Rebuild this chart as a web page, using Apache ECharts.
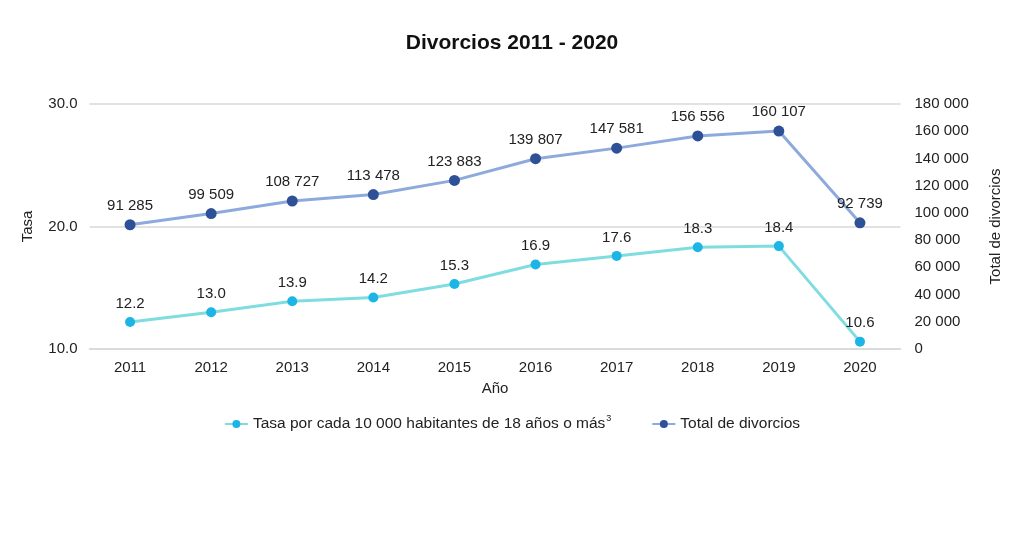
<!DOCTYPE html>
<html>
<head>
<meta charset="utf-8">
<script src="https://cdn.jsdelivr.net/npm/echarts@6/dist/echarts.min.js"></script>
<style>
    html, body { margin: 0; padding: 0; background: #fff; }
    #chart { width: 1024px; height: 552px; }
</style>
</head>
<body>
<div id="chart"></div>
<script>
var years = ['2011', '2012', '2013', '2014', '2015', '2016', '2017', '2018', '2019', '2020'];
var tasa = [12.2, 13.0, 13.9, 14.2, 15.3, 16.9, 17.6, 18.3, 18.4, 10.6];
var totalDivorcios = [91285, 99509, 108727, 113478, 123883, 139807, 147581, 156556, 160107, 92739];
var tasaName = 'Tasa por cada 10 000 habitantes de 18 años o más';
var totalName = 'Total de divorcios';

// separador de miles con espacio
function miles(v) {
    return String(v).replace(/\B(?=(\d{3})+(?!\d))/g, ' ');
}

var myChart = echarts.init(document.getElementById('chart'));

var font = "'Liberation Sans', Arial, sans-serif";

var option = {
    backgroundColor: '#fff',
    textStyle: { fontFamily: font },
    title: {
        text: 'Divorcios 2011 - 2020',
        left: 'center',
        top: 28,
        textStyle: { fontSize: 21, fontWeight: 'bold', color: '#111', fontFamily: font }
    },
    legend: {
        bottom: 115,
        left: 'center',
        itemGap: 40,
        itemWidth: 23,
        itemHeight: 10,
        data: [tasaName, totalName],
        formatter: function (name) {
            return name === tasaName ? name + '{sup|3}' : name;
        },
        textStyle: {
            fontSize: 15.5, color: '#222', fontFamily: font,
            rich: { sup: { fontSize: 9, verticalAlign: 'top', padding: [0, 0, 10, 1], color: '#222' } }
        }
    },
    grid: {
        left: 89.5,
        right: 123.5,
        top: 104,
        bottom: 203
    },
    xAxis: {
        type: 'category',
        data: years,
        boundaryGap: true,
        name: 'Año',
        nameLocation: 'middle',
        nameGap: 32,
        nameTextStyle: { fontSize: 15, color: '#222' },
        axisLine: { lineStyle: { color: '#d9d9d9', width: 1.5 } },
        axisTick: { show: false },
        axisLabel: { fontSize: 15, color: '#222', margin: 11 }
    },
    yAxis: [
        {
            type: 'value',
            min: 10,
            max: 30,
            interval: 10,
            name: 'Tasa',
            nameLocation: 'middle',
            nameRotate: 90,
            nameGap: 54,
            nameTextStyle: { fontSize: 15, color: '#222' },
            axisLine: { show: false },
            axisTick: { show: false },
            axisLabel: {
                fontSize: 15, color: '#222', margin: 12,
                formatter: function (v) { return v.toFixed(1); }
            },
            splitLine: { lineStyle: { color: '#d9d9d9', width: 1.5 } }
        },
        {
            type: 'value',
            min: 0,
            max: 180000,
            interval: 20000,
            name: 'Total de divorcios',
            nameLocation: 'middle',
            nameRotate: 90,
            nameGap: 88,
            nameTextStyle: { fontSize: 15, color: '#222' },
            axisLine: { show: false },
            axisTick: { show: false },
            axisLabel: {
                fontSize: 15, color: '#222', margin: 14,
                formatter: function (v) { return miles(v); }
            },
            splitLine: { show: false }
        }
    ],
    series: [
        {
            name: tasaName,
            type: 'line',
            yAxisIndex: 0,
            data: tasa,
            symbol: 'circle',
            symbolSize: 10,
            lineStyle: { color: '#7fdde0', width: 3 },
            itemStyle: { color: '#1cb5e6' },
            label: {
                show: true,
                position: 'top',
                distance: 6,
                fontSize: 15,
                color: '#222',
                formatter: function (p) { return p.value.toFixed(1); }
            }
        },
        {
            name: totalName,
            type: 'line',
            yAxisIndex: 1,
            data: totalDivorcios,
            symbol: 'circle',
            symbolSize: 11,
            lineStyle: { color: '#8eaadc', width: 3 },
            itemStyle: { color: '#2e5096' },
            label: {
                show: true,
                position: 'top',
                distance: 6,
                fontSize: 15,
                color: '#222',
                formatter: function (p) { return miles(p.value); }
            }
        }
    ]
};

myChart.setOption(option);
</script>
</body>
</html>
